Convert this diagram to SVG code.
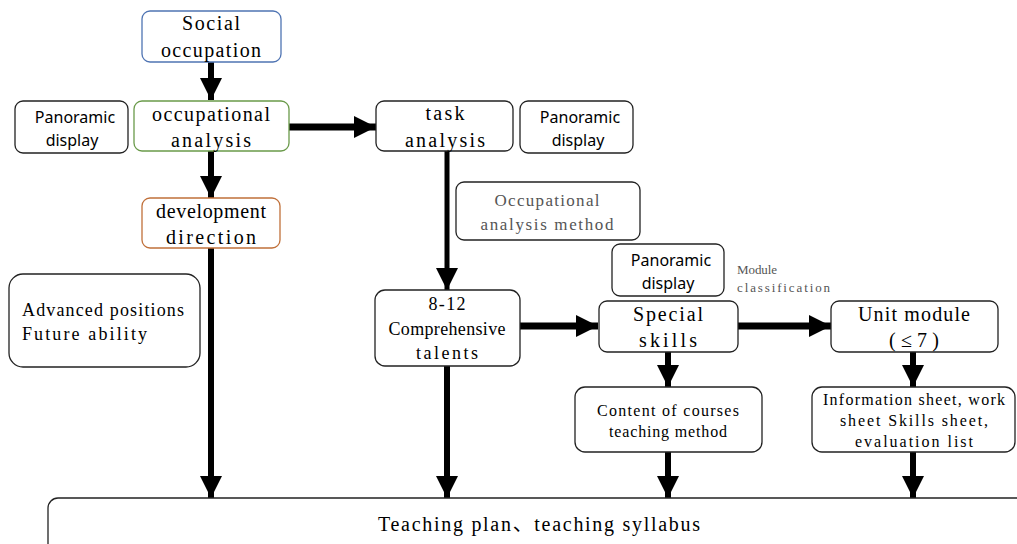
<svg xmlns="http://www.w3.org/2000/svg" width="1017" height="544" viewBox="0 0 1017 544">
<style>
.box{fill:#fff;stroke:#222;stroke-width:1.3}
.t{font-family:"Liberation Serif","Noto Sans CJK SC",serif;fill:#000;text-anchor:middle}
.s{font-family:"Noto Sans","Liberation Sans",sans-serif;fill:#000;text-anchor:middle;font-size:16px}
.c{stroke:#000;fill:none}
</style>
<defs>
<marker id="ah" markerUnits="userSpaceOnUse" markerWidth="24" markerHeight="22" refX="22" refY="11" orient="auto">
<path d="M0,0 L22,11 L0,22 Z" fill="#000"/>
</marker>
</defs>
<rect width="1017" height="544" fill="#fff"/>
<g id="connectors">
<line class="c" x1="211" y1="62" x2="211" y2="100" stroke-width="6" marker-end="url(#ah)"/>
<line class="c" x1="211" y1="151" x2="211" y2="198" stroke-width="6" marker-end="url(#ah)"/>
<line class="c" x1="289" y1="127" x2="376" y2="127" stroke-width="7" marker-end="url(#ah)"/>
<line class="c" x1="447" y1="151" x2="447" y2="290" stroke-width="5" marker-end="url(#ah)"/>
<line class="c" x1="211" y1="248" x2="211" y2="498" stroke-width="6" marker-end="url(#ah)"/>
<line class="c" x1="447" y1="366" x2="447" y2="498" stroke-width="6" marker-end="url(#ah)"/>
<line class="c" x1="520" y1="326" x2="598" y2="326" stroke-width="7" marker-end="url(#ah)"/>
<line class="c" x1="738" y1="326" x2="831" y2="326" stroke-width="7" marker-end="url(#ah)"/>
<line class="c" x1="668" y1="352" x2="668" y2="387" stroke-width="6" marker-end="url(#ah)"/>
<line class="c" x1="668" y1="452" x2="668" y2="498" stroke-width="6" marker-end="url(#ah)"/>
<line class="c" x1="913" y1="352" x2="913" y2="387" stroke-width="6" marker-end="url(#ah)"/>
<line class="c" x1="913" y1="452" x2="913" y2="498" stroke-width="6" marker-end="url(#ah)"/>
</g>
<g id="social">
<rect class="box" x="142" y="11" width="139" height="51" rx="8" style="stroke:#4f74b3"/>
<text class="t" x="211" y="30" font-size="20" textLength="58">Social</text>
<text class="t" x="211" y="57" font-size="20" textLength="100">occupation</text>
</g>
<g id="pano1">
<rect class="box" x="15" y="101" width="113" height="52" rx="8"/>
<text class="s" x="75" y="123">Panoramic</text>
<text class="s" x="72" y="146">display</text>
</g>
<g id="occanalysis">
<rect class="box" x="134" y="101" width="155" height="50" rx="8" style="stroke:#6a9a4a"/>
<text class="t" x="211" y="121" font-size="20" textLength="118">occupational</text>
<text class="t" x="211" y="147" font-size="20" textLength="80">analysis</text>
</g>
<g id="task">
<rect class="box" x="376" y="101" width="137" height="50" rx="8"/>
<text class="t" x="445" y="120" font-size="20" textLength="39">task</text>
<text class="t" x="445" y="147" font-size="20" textLength="80">analysis</text>
</g>
<g id="pano2">
<rect class="box" x="520" y="101" width="113" height="52" rx="8"/>
<text class="s" x="580" y="123">Panoramic</text>
<text class="s" x="578" y="146">display</text>
</g>
<g id="method">
<rect class="box" x="456" y="182" width="184" height="58" rx="8"/>
<text class="t" x="547" y="206" font-size="17" textLength="105" style="fill:#555">Occupational</text>
<text class="t" x="547" y="230" font-size="17" textLength="133" style="fill:#555">analysis method</text>
</g>
<g id="devdir">
<rect class="box" x="142" y="198" width="138" height="50" rx="8" style="stroke:#c0703a"/>
<text class="t" x="211" y="218" font-size="20" textLength="110">development</text>
<text class="t" x="211" y="244" font-size="20" textLength="90">direction</text>
</g>
<g id="advanced">
<rect class="box" x="9" y="274" width="191" height="93" rx="14"/>
<text class="t" x="22" y="316" font-size="18" textLength="162" style="text-anchor:start">Advanced positions</text>
<text class="t" x="22" y="340" font-size="18" textLength="125" style="text-anchor:start">Future ability</text>
</g>
<g id="talents">
<rect class="box" x="375" y="290" width="145" height="76" rx="10"/>
<text class="t" x="447" y="310" font-size="18" textLength="37">8-12</text>
<text class="t" x="447" y="335" font-size="18" textLength="117">Comprehensive</text>
<text class="t" x="447" y="359" font-size="18" textLength="62">talents</text>
</g>
<g id="pano3">
<rect class="box" x="612" y="244" width="112" height="52" rx="8"/>
<text class="s" x="671" y="266">Panoramic</text>
<text class="s" x="668" y="289">display</text>
</g>
<text x="737" y="274" font-family="Liberation Serif, serif" font-size="13" textLength="40" fill="#555">Module</text>
<text x="737" y="292" font-family="Liberation Serif, serif" font-size="13" textLength="93" fill="#555">classification</text>
<g id="special">
<rect class="box" x="599" y="301" width="139" height="51" rx="8"/>
<text class="t" x="668" y="321" font-size="20" textLength="70">Special</text>
<text class="t" x="668" y="347" font-size="20" textLength="58">skills</text>
</g>
<g id="unit">
<rect class="box" x="831" y="301" width="167" height="51" rx="8"/>
<text class="t" x="914" y="321" font-size="20" textLength="112">Unit module</text>
<text class="t" x="914" y="347" font-size="20" textLength="50">(≤7)</text>
</g>
<g id="content">
<rect class="box" x="575" y="387" width="187" height="65" rx="10"/>
<text class="t" x="668" y="416" font-size="16" textLength="142">Content of courses</text>
<text class="t" x="668" y="437" font-size="16" textLength="118">teaching method</text>
</g>
<g id="info">
<rect class="box" x="812" y="387" width="203" height="65" rx="10"/>
<text class="t" x="914" y="405" font-size="16" textLength="182">Information sheet, work</text>
<text class="t" x="914" y="426" font-size="16" textLength="148">sheet Skills sheet,</text>
<text class="t" x="914" y="447" font-size="16" textLength="118">evaluation list</text>
</g>
<g id="plan">
<rect class="box" x="48" y="498" width="1000" height="70" rx="10"/>
<text class="t" x="539" y="531" font-size="20" textLength="322">Teaching plan、teaching syllabus</text>
</g>
</svg>
